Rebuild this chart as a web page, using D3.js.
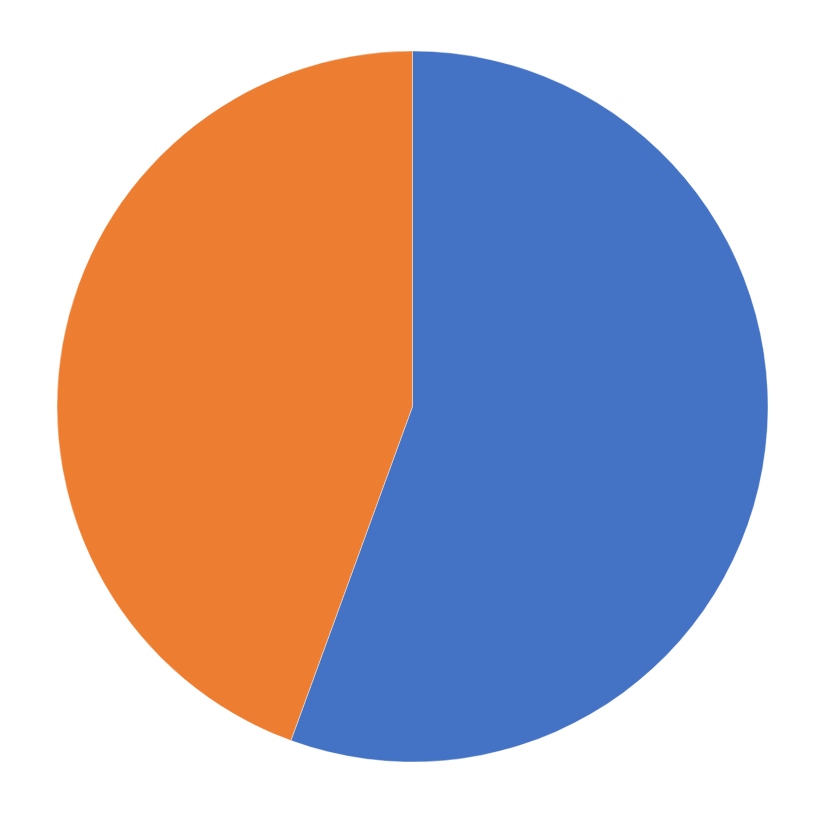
<!DOCTYPE html>
<html lang="en">
	<head>
		<meta charset="UTF-8"/>
		<title>Pie</title>
		<script type="text/javascript" src="https://cdn.jsdelivr.net/npm/d3@7"></script>
		<style>
			html, body { margin: 0; padding: 0; background: #ffffff; }
		</style>
	</head>
	<body>
		<script type="text/javascript">
			var w = 825;
			var h = 813;

			var categories = ["1", "2"];
			var values = [5, 4];
			var colors = ["#4472C4", "#ED7D31"];

			var cx = 412.5;
			var cy = 406.5;
			var radius = 355.5;

			var color = d3.scaleOrdinal()
				.domain(categories)
				.range(colors);

			var pie = d3.pie()
				.sort(null)
				.value(function(d) { return d.value; });

			var arc = d3.arc()
				.innerRadius(0)
				.outerRadius(radius);

			var data = categories.map(function(c, i) { return { name: c, value: values[i] }; });

			var svg = d3.select("body")
				.append("svg")
				.attr("width", w)
				.attr("height", h);

			var g = svg.append("g")
				.attr("transform", "translate(" + cx + "," + cy + ")");

			// slices
			g.selectAll("path")
				.data(pie(data))
				.enter()
				.append("path")
				.attr("d", arc)
				.attr("fill", function(d) { return color(d.data.name); })
				.attr("stroke", "#ffffff")
				.attr("stroke-width", 0.4);
		</script>
	</body>
</html>
